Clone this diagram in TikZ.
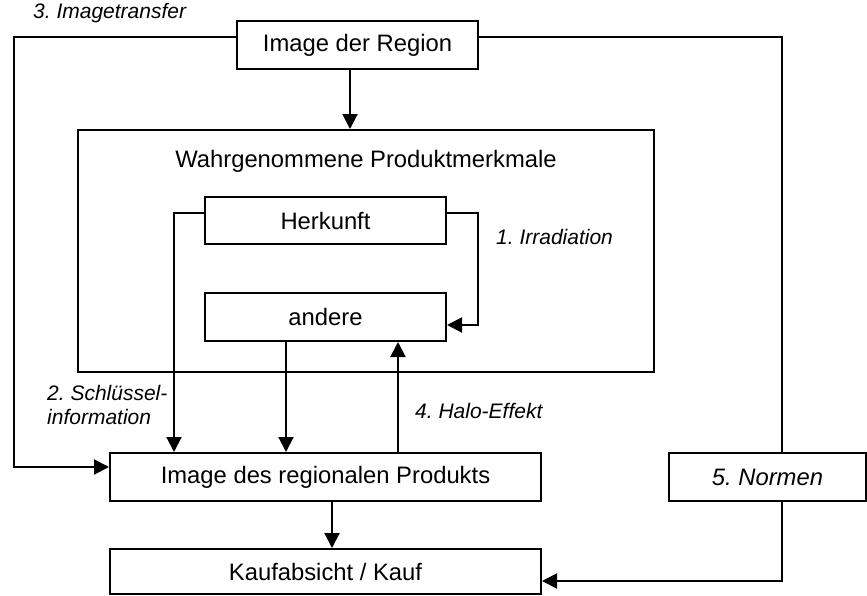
\documentclass[tikz,border=0pt]{standalone}
\usepackage{fontspec}
\setmainfont{Liberation Sans}
\frenchspacing
\usetikzlibrary{arrows.meta}
\tikzstyle{boxStyle}=[shape = rectangle, draw, line width = 2pt, inner sep = 0pt]
\tikzstyle{labelStyle}=[font = \fontsize{21}{24}\selectfont\itshape, inner sep = 0pt, anchor = west]

\begin{document}
\begin{tikzpicture}[x = 1pt, y = -1pt, font = \fontsize{23.8}{28}\selectfont]
\tikzstyle{arrowStyle}=[line width = 2pt, -{Triangle[length = 15pt, width = 15pt]}]
\tikzstyle{lineStyle}=[line width = 2pt]
\useasboundingbox (0,0) rectangle (867,595);
\node[boxStyle, minimum width = 576pt, minimum height = 242pt] (merkmale) at (366,251) {};
\node[inner sep = 0pt] (titel) at (366,161) {Wahrgenommene Produktmerkmale};
\node[boxStyle, minimum width = 241pt, minimum height = 48pt] (region) at (357.5,45) {Image der Region};
\node[boxStyle, minimum width = 241pt, minimum height = 47pt] (herkunft) at (325.5,220.5) {Herkunft};
\node[boxStyle, minimum width = 241pt, minimum height = 48pt] (andere) at (325.5,317) {andere};
\node[boxStyle, minimum width = 431pt, minimum height = 48pt] (produkt) at (325.5,477) {Image des regionalen Produkts};
\node[boxStyle, minimum width = 431pt, minimum height = 45pt] (kauf) at (325.5,571.5) {Kaufabsicht / Kauf};
\node[boxStyle, minimum width = 197pt, minimum height = 48pt, font = \fontsize{23.8}{28}\selectfont\itshape] (normen) at (767.5,477) {5. Normen};
\node[labelStyle] (transfer) at (33,13) {3. Imagetransfer};
\node[labelStyle] (irradiation) at (496,237) {1. Irradiation};
\node[labelStyle, align = left] (schluessel) at (47,405) {2. Schlüssel-\\information};
\node[labelStyle] (halo) at (415,411) {4. Halo-Effekt};
% bends and columns
\coordinate (tl) at (14,37);
\coordinate (bl) at (14,467);
\coordinate (tr) at (782,37);
\coordinate (br) at (782,581);
\coordinate (ir) at (478,213);
\coordinate (ir2) at (478,325);
\coordinate (sk) at (174,213);
\coordinate (xr) at (350,0);
\coordinate (xa) at (286,0);
\coordinate (xh) at (398,0);
\coordinate (xk) at (332,0);
\draw[arrowStyle] (region.south -| xr) -- (merkmale.north -| xr);
\draw[arrowStyle] (region.west |- tl) -- (tl) -- (bl) -- (produkt.west |- bl);
\draw[lineStyle] (region.east |- tr) -- (tr) -- (normen.north -| tr);
\draw[arrowStyle] (normen.south -| br) -- (br) -- (kauf.east |- br);
\draw[arrowStyle] (herkunft.east |- ir) -- (ir) -- (ir2) -- (andere.east |- ir2);
\draw[arrowStyle] (herkunft.west |- sk) -- (sk) -- (sk |- produkt.north);
\draw[arrowStyle] (andere.south -| xa) -- (produkt.north -| xa);
\draw[arrowStyle] (produkt.north -| xh) -- (andere.south -| xh);
\draw[arrowStyle] (produkt.south -| xk) -- (kauf.north -| xk);
\end{tikzpicture}
\end{document}
